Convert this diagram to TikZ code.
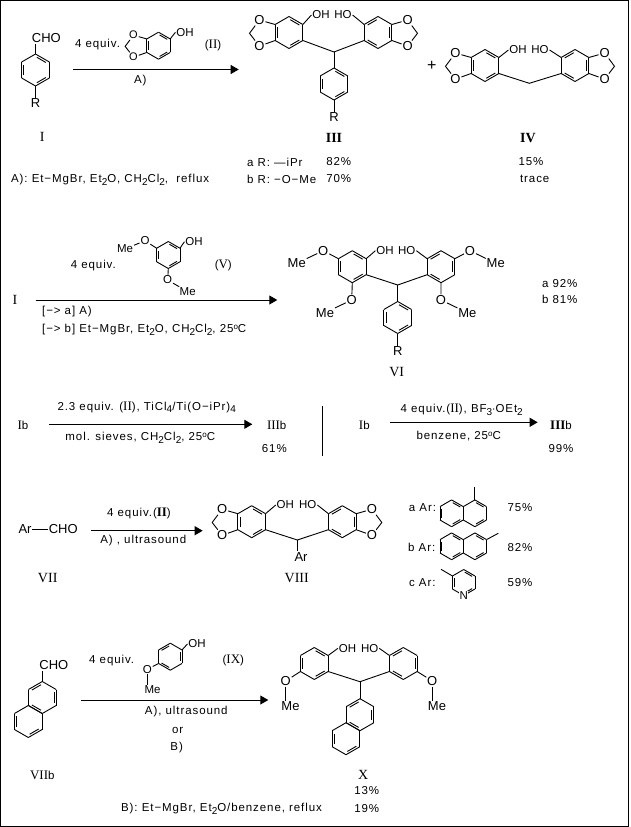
\documentclass[tikz,border=0pt]{standalone}
\usepackage{fontspec}
\setmainfont{Liberation Sans}[LetterSpace=8]
\newfontfamily\atomfont{Liberation Sans}
\newfontfamily\romfont{Liberation Serif}
\usetikzlibrary{arrows.meta}

\newcommand{\rn}[1]{{\romfont\fontsize{13}{14}\selectfont #1}}
\newcommand{\lowidx}[1]{\raisebox{-2.5pt}{\fontsize{10}{10}\selectfont #1}}
\newcommand{\degsign}{\raisebox{3pt}{\fontsize{8}{8}\selectfont o}}

\newcommand{\hexring}[5][16]{%
    \begin{scope}[shift={(#3,#4)}]
        \foreach \a in {30,90,...,330}
            \draw (\a:#1) coordinate (#2-\a) -- (\a+60:#1);
        \foreach \a in {#5}
            \draw (\a+6:#1*0.8) -- (\a+54:#1*0.8);
    \end{scope}
}
\newcommand{\dioxring}[5][16]{%
    \ifnum#5<0
        \hexring[#1]{#2}{#3}{#4}{30,150,270}\def\upv{210}\def\lowv{150}
    \else
        \hexring[#1]{#2}{#3}{#4}{90,210,330}\def\upv{330}\def\lowv{30}
    \fi
    \node[atom] (#2oa) at (#3+#5*1.85*#1,#4-0.78*#1) {O};
    \node[atom] (#2ob) at (#3+#5*1.85*#1,#4+0.85*#1) {O};
    \coordinate (#2ch) at (#3+#5*2.47*#1,#4+0.05*#1);
    \draw (#2-\upv) -- (#2oa) -- (#2ch) -- (#2ob) -- (#2-\lowv);
}

\tikzset{
    atom/.style={inner sep=0.5pt, font=\atomfont\fontsize{13}{14}\selectfont},
    hydroxy/.style={inner sep=0.5pt, font=\atomfont\fontsize{11.5}{14}\selectfont},
    small/.style={inner sep=0.5pt, font=\atomfont\fontsize{11.5}{13}\selectfont},
    lab/.style={inner sep=0pt, font=\fontsize{11.5}{13}\selectfont},
    rom/.style={inner sep=0pt, font=\romfont\fontsize{14}{16}\selectfont},
    rombold/.style={inner sep=0pt, font=\romfont\bfseries\fontsize{14}{16}\selectfont},
    rxn/.style={-{Triangle[length=8pt,width=9pt]}}
}

\begin{document}
\begin{tikzpicture}[x=1pt, y=-1pt, line width=0.9pt]
    \useasboundingbox (0,0) rectangle (630,827);
    \draw (0.5,0.5) rectangle (628.5,826);

    % first scheme
    \hexring{ri}{35.5}{70}{30,150,270}
    \node[atom, anchor=west] (choi) at (31,38) {CHO};
    \node[atom] (ratom) at (35.5,103) {R};
    \draw (ri-270) -- (ri-270 |- choi.south);
    \draw (ri-90) -- (ratom);
    \node[rom] (li) at (42.3,137) {I};

    \node[lab] (eqa) at (97.5,45) {4 equiv.};
    \begin{scope}[atom/.append style={font=\atomfont\fontsize{11}{13}\selectfont}]
        \dioxring[13.5]{rii}{158.5}{45.7}{-1}
    \end{scope}
    \node[small] (ohii) at (185,32.3) {OH};
    \draw (rii-330) -- (ohii.west);
    \node[lab] (lii) at (213,45) {(\rn{II})};
    \coordinate (a1s) at (73,69.5);
    \coordinate (a1e) at (238.7,69.5);
    \draw[rxn] (a1s) -- (a1e);
    \node[lab] (cona) at (140.3,81) {A)};
    \node[lab, anchor=west] (noteA) at (10.7,180) {A): Et−MgBr, Et\lowidx{2}O, CH\lowidx{2}Cl\lowidx{2},\ \ reflux};

    \dioxring{pa}{289}{32.5}{-1}
    \dioxring{pb}{378}{32.5}{1}
    \node[hydroxy] (ohp) at (321,15) {OH};
    \node[hydroxy] (hop) at (343,15) {HO};
    \draw (pa-330) -- (ohp.west);
    \draw (pb-210) -- (hop.east);
    \coordinate (chp) at (334,52);
    \draw (pa-30) -- (chp) -- (pb-150);
    \hexring{rp}{334}{84}{30,150,270}
    \draw (chp) -- (rp-270);
    \node[atom] (rpa) at (334,117) {R};
    \draw (rp-90) -- (rpa);
    \node[rombold] (liii) at (334,138) {III};
    \node[lab, anchor=west] (ra) at (246.7,162) {a R: —iPr};
    \node[lab, anchor=west] (rb) at (246.7,179) {b R: −O−Me};
    \node[lab] (y82) at (338.7,162) {82\%};
    \node[lab] (y70) at (338.7,179) {70\%};

    \node[atom, font=\atomfont\fontsize{16}{16}\selectfont] (plus) at (431.7,65.7) {+};
    \dioxring{qa}{485}{65.5}{-1}
    \dioxring{qb}{575}{65.5}{1}
    \node[hydroxy] (ohq) at (518,50) {OH};
    \node[hydroxy] (hoq) at (540,50) {HO};
    \draw (qa-330) -- (ohq.west);
    \draw (qb-210) -- (hoq.east);
    \coordinate (chq) at (529.3,83.3);
    \draw (qa-30) -- (chq) -- (qb-150);
    \node[rombold] (liv) at (528,138) {IV};
    \node[lab] (y15) at (531,162) {15\%};
    \node[lab] (ytr) at (534.7,179) {trace};

    % second scheme
    \node[rom] (lib) at (15,300) {I};
    \node[lab] (eqb) at (93.3,265.7) {4 equiv.};
    \hexring[13.5]{rv}{168.3}{255}{30,150,270}
    \node[small] (ohv) at (194,241.7) {OH};
    \node[small] (ova) at (145,240.7) {O};
    \node[small] (meva) at (125,249) {Me};
    \node[small] (ovb) at (167.7,280) {O};
    \node[small] (mevb) at (187.7,291.7) {Me};
    \draw (rv-330) -- (ohv.west);
    \draw (rv-210) -- (ova) -- (meva);
    \draw (rv-90) -- (ovb) -- (mevb);
    \node[lab] (lv) at (223.3,265) {(\rn{V})};
    \coordinate (a2s) at (35.7,300);
    \coordinate (a2e) at (277.3,300);
    \draw[rxn] (a2s) -- (a2e);
    \node[lab, anchor=west] (conb) at (41.7,311.7) {[−> a] A)};
    \node[lab, anchor=west] (conc) at (41.7,330) {[−> b] Et−MgBr, Et\lowidx{2}O, CH\lowidx{2}Cl\lowidx{2}, 25\degsign C};

    \hexring{sa}{352.3}{266.7}{30,150,270}
    \hexring{sb}{441}{266.7}{90,210,330}
    \node[hydroxy] (ohs) at (385,250.7) {OH};
    \node[hydroxy] (hos) at (406.8,250.7) {HO};
    \draw (sa-330) -- (ohs.west);
    \draw (sb-210) -- (hos.east);
    \node[atom] (osa) at (323.3,250.7) {O};
    \node[atom] (mesa) at (296.7,263.3) {Me};
    \node[atom] (osb) at (351.7,300) {O};
    \node[atom] (mesb) at (325,312.7) {Me};
    \node[atom] (osc) at (470,250.7) {O};
    \node[atom] (mesc) at (495.7,263.3) {Me};
    \node[atom] (osd) at (441,300) {O};
    \node[atom] (mesd) at (467.3,312.7) {Me};
    \draw (sa-210) -- (osa) -- (mesa);
    \draw (sa-90) -- (osb) -- (mesb);
    \draw (sb-330) -- (osc) -- (mesc);
    \draw (sb-90) -- (osd) -- (mesd);
    \coordinate (chs) at (397.7,285);
    \draw (sa-30) -- (chs) -- (sb-150);
    \hexring{rs}{397.7}{317.5}{30,150,270}
    \draw (chs) -- (rs-270);
    \node[atom] (rsa) at (397.7,351) {R};
    \draw (rs-90) -- (rsa);
    \node[rom] (lvi) at (396.7,371.7) {VI};
    \node[lab] (y92) at (559.7,283.3) {a 92\%};
    \node[lab] (y81) at (559.7,299.3) {b 81\%};

    % third scheme
    \node[lab] (iba) at (23,425) {\rn{I}b};
    \coordinate (a3s) at (49,424.3);
    \coordinate (a3e) at (252.3,424.3);
    \draw[rxn] (a3s) -- (a3e);
    \node[lab] (cond) at (146.7,407.3) {2.3 equiv. (\rn{II}), TiCl\lowidx{4}/Ti(O−iPr)\lowidx{4}};
    \node[lab] (cone) at (140.3,437.7) {mol. sieves, CH\lowidx{2}Cl\lowidx{2}, 25\degsign C};
    \node[lab] (iiib) at (276.7,425) {\rn{III}b};
    \node[lab] (y61) at (274.3,449) {61\%};
    \coordinate (sepa) at (322.3,406);
    \coordinate (sepb) at (322.3,456);
    \draw (sepa) -- (sepb);
    \node[lab] (ibb) at (364.3,425) {\rn{I}b};
    \coordinate (a4s) at (390,422.3);
    \coordinate (a4e) at (537.7,422.3);
    \draw[rxn] (a4s) -- (a4e);
    \node[lab] (conf) at (461.7,410) {4 equiv.(\rn{II}), BF\lowidx{3}$\cdot$OEt\lowidx{2}};
    \node[lab] (cong) at (458.7,436) {benzene, 25\degsign C};
    \node[lab] (iiic) at (561,425) {{\romfont\bfseries\fontsize{13}{14}\selectfont III}b};
    \node[lab] (y99) at (561,448.3) {99\%};

    % fourth scheme
    \node[atom] (ar) at (25,529.3) {Ar};
    \node[atom] (chovii) at (63.3,529.3) {CHO};
    \draw (ar) -- (chovii);
    \node[rom] (lvii) at (47.7,578.3) {VII};
    \coordinate (a5s) at (91,530.7);
    \coordinate (a5e) at (202.7,530.7);
    \draw[rxn] (a5s) -- (a5e);
    \node[lab] (conh) at (139,513.3) {4 equiv.({\romfont\bfseries\fontsize{13}{14}\selectfont II})};
    \node[lab] (coni) at (143.3,541) {A) , ultrasound};

    \dioxring{ta}{251.7}{521.7}{-1}
    \dioxring{tb}{342.3}{521.7}{1}
    \node[hydroxy] (oht) at (285.3,505) {OH};
    \node[hydroxy] (hot) at (307.8,505) {HO};
    \draw (ta-330) -- (oht.west);
    \draw (tb-210) -- (hot.east);
    \coordinate (cht) at (297.3,540);
    \draw (ta-30) -- (cht) -- (tb-150);
    \node[atom] (art) at (301,556.7) {Ar};
    \draw (cht) -- (cht |- art.north);
    \node[rom] (lviii) at (296.7,578.3) {VIII};

    \node[lab] (ara) at (422.5,507.3) {a Ar:};
    \hexring[13.4]{na}{451.6}{513.3}{30,150,270}
    \hexring[13.4]{nb}{474.9}{513.3}{30,270}
    \coordinate (sa1) at (474.9,486.7);
    \draw (nb-270) -- (sa1);
    \node[lab] (y75) at (520,507.3) {75\%};

    \node[lab] (arb) at (421.7,547.3) {b Ar:};
    \hexring[13.4]{nc}{451.6}{546.3}{30,150,270}
    \hexring[13.4]{nd}{474.9}{546.3}{30,270}
    \coordinate (sb1) at (498.3,533.3);
    \draw (nd-330) -- (sb1);
    \node[lab] (y82b) at (520,547.3) {82\%};

    \node[lab] (arc) at (422.3,582.3) {c Ar:};
    \hexring[13]{py}{463.7}{582.5}{30,150,270}
    \coordinate (sc1) at (441,569.3);
    \draw (py-210) -- (sc1);
    \node[small, fill=white, inner sep=0.2pt] (npy) at (py-90) {N};
    \node[lab] (y59) at (520,582.3) {59\%};

    % fifth scheme
    \hexring{ua}{42.3}{697.5}{90,210,330}
    \hexring{ub}{28.3}{721.5}{30,150}
    \node[atom, anchor=west] (chou) at (38.5,665) {CHO};
    \draw (ua-270) -- (ua-270 |- chou.south);
    \node[lab] (lviib) at (42.3,775) {\rn{VII}b};

    \node[lab] (eqc) at (111.7,660.7) {4 equiv.};
    \hexring[13.5]{rix}{170.3}{656.7}{90,210,330}
    \node[small] (ohix) at (197,644) {OH};
    \node[small] (oix) at (147.3,669.3) {O};
    \node[small, anchor=west] (meix) at (143.7,690) {Me};
    \draw (rix-330) -- (ohix.west);
    \draw (rix-150) -- (oix);
    \draw (oix) -- (oix |- meix.north);
    \node[lab] (lix) at (233.3,660) {(\rn{IX})};
    \coordinate (a6s) at (81,700);
    \coordinate (a6e) at (268.3,700);
    \draw[rxn] (a6s) -- (a6e);
    \node[lab] (conj) at (186.3,711.7) {A), ultrasound};
    \node[lab] (conk) at (177.7,730.7) {or};
    \node[lab] (conl) at (176.7,747.7) {B)};
    \node[lab, anchor=west] (noteB) at (120.7,809) {B): Et−MgBr, Et\lowidx{2}O/benzene, reflux};

    \hexring{xa}{314.3}{663.5}{30,150,270}
    \hexring{xb}{403.3}{663.5}{90,210,330}
    \node[hydroxy] (ohx) at (347.5,648.3) {OH};
    \node[hydroxy] (hox) at (369.7,648.3) {HO};
    \draw (xa-330) -- (ohx.west);
    \draw (xb-210) -- (hox.east);
    \node[atom] (oxa) at (285.7,681) {O};
    \node[atom, anchor=west] (mexa) at (280.5,706.5) {Me};
    \node[atom] (oxb) at (432.3,681) {O};
    \node[atom, anchor=west] (mexb) at (427,706.5) {Me};
    \draw (xa-150) -- (oxa);
    \draw (oxa) -- (oxa |- mexa.north);
    \draw (xb-30) -- (oxb);
    \draw (oxb) -- (oxb |- mexb.north);
    \coordinate (chx) at (360,681.7);
    \draw (xa-30) -- (chx) -- (xb-150);
    \hexring{xc}{360}{714.7}{90,210,330}
    \hexring{xd}{346}{738.7}{30,150}
    \draw (chx) -- (xc-270);
    \node[rom] (lx) at (363.3,775) {X};
    \node[lab] (y13) at (366.7,790.7) {13\%};
    \node[lab] (y19) at (366.7,808.3) {19\%};
\end{tikzpicture}
\end{document}
